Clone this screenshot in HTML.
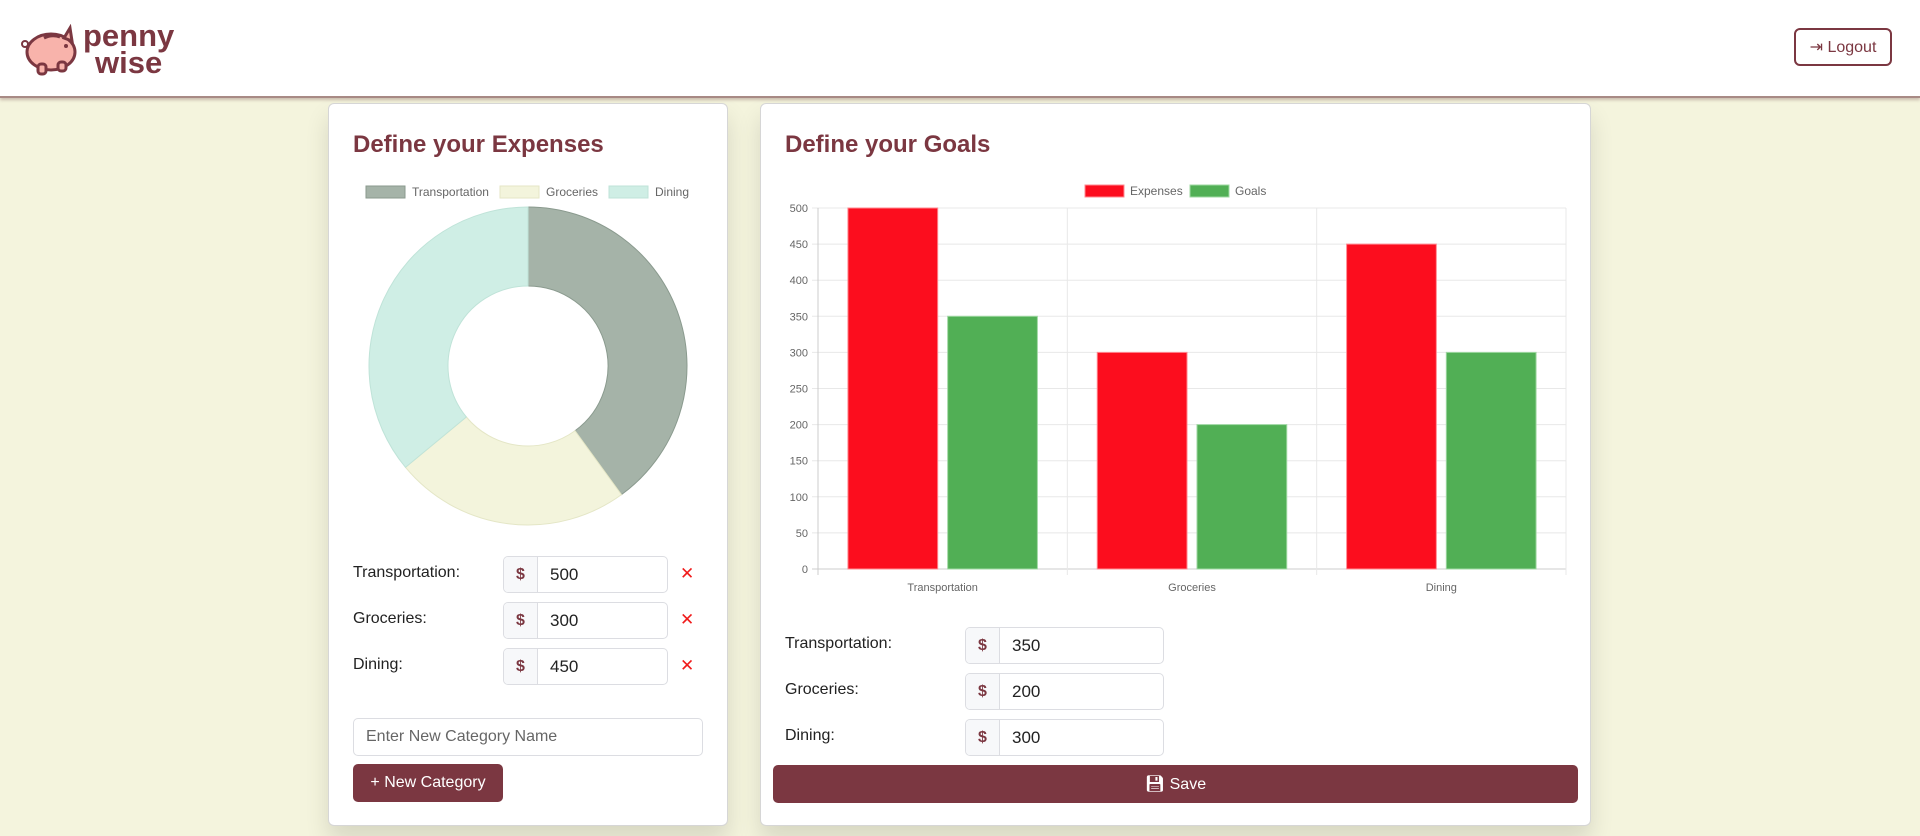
<!DOCTYPE html>
<html><head><meta charset="utf-8"><style>
*{box-sizing:border-box;margin:0;padding:0}
body{width:1920px;height:836px;overflow:hidden;background:#f4f4dd;font-family:"Liberation Sans",sans-serif;color:#222;position:relative}
.header{position:absolute;left:0;top:0;width:1920px;height:98px;background:#fff;border-bottom:2px solid #a88a85;box-shadow:0 2px 3px rgba(120,80,80,.35)}
.card{position:absolute;top:103px;height:723px;background:#fff;border:1px solid #d6d6d6;border-radius:6px;box-shadow:0 14px 24px rgba(0,0,0,.12)}
.title{position:absolute;font-size:24px;font-weight:bold;color:#7b3741}
.lbl{position:absolute;font-size:16px;color:#222}
.ig{position:absolute;height:37px;display:flex;border:1px solid #dcdde2;border-radius:5px;overflow:hidden;background:#fff}
.ig .add{width:34px;background:#f7f8fa;border-right:1px solid #dcdde2;color:#7b3741;font-weight:bold;display:flex;align-items:center;justify-content:center;font-size:16px}
.ig .val{flex:1;padding-left:12px;display:flex;align-items:center;font-size:17px;color:#222}
.x{position:absolute;color:#f01b1b;font-size:17px}
.btn{position:absolute;background:#7b3741;color:#fff;border-radius:5px;display:flex;align-items:center;justify-content:center;font-size:16px}
</style></head><body>
<div class="header">
  <svg style="position:absolute;left:18px;top:24px" width="64" height="54" viewBox="0 0 64 54">
    <ellipse cx="33" cy="28" rx="24" ry="18" fill="#f8b3ab" stroke="#7b3741" stroke-width="3"/>
    <path d="M46 14 L52 4 L54 17 Z" fill="#f8b3ab" stroke="#7b3741" stroke-width="3"/>
    <rect x="20" y="40" width="8" height="10" rx="3" fill="#f8b3ab" stroke="#7b3741" stroke-width="3"/>
    <rect x="40" y="38" width="8" height="9" rx="3" fill="#f8b3ab" stroke="#7b3741" stroke-width="3"/>
    <path d="M26 14 Q34 10 42 13" stroke="#7b3741" stroke-width="3" fill="none"/>
    <circle cx="48" cy="22" r="2" fill="#7b3741"/>
    <circle cx="7" cy="20" r="3" fill="none" stroke="#7b3741" stroke-width="2"/>
  </svg>
  <div style="position:absolute;left:83px;top:22px;font-size:31px;line-height:27px;color:#7b3741;font-weight:bold">penny<br><span style="margin-left:12px">wise</span></div>
  <div style="position:absolute;left:1794px;top:28px;width:98px;height:38px;border:2px solid #7b3741;border-radius:6px;color:#7b3741;font-size:16px;display:flex;align-items:center;justify-content:center">⇥ Logout</div>
</div>

<div class="card" style="left:328px;width:400px">
  <div class="title" style="left:24px;top:27px">Define your Expenses</div>
</div>
<svg id="donut" style="position:absolute;left:328px;top:103px" width="400" height="440"></svg>

<div class="lbl" style="left:353px;top:564px">Transportation:</div>
<div class="ig" style="left:503px;top:556px;width:165px"><div class="add">$</div><div class="val">500</div></div>
<div class="x" style="left:680px;top:564px">✕</div>
<div class="lbl" style="left:353px;top:610px">Groceries:</div>
<div class="ig" style="left:503px;top:602px;width:165px"><div class="add">$</div><div class="val">300</div></div>
<div class="x" style="left:680px;top:610px">✕</div>
<div class="lbl" style="left:353px;top:656px">Dining:</div>
<div class="ig" style="left:503px;top:648px;width:165px"><div class="add">$</div><div class="val">450</div></div>
<div class="x" style="left:680px;top:656px">✕</div>

<div style="position:absolute;left:353px;top:718px;width:350px;height:38px;border:1px solid #dcdde2;border-radius:5px;padding-left:12px;display:flex;align-items:center;font-size:16px;color:#666">Enter New Category Name</div>
<div class="btn" style="left:353px;top:764px;width:150px;height:38px">+ New Category</div>

<div class="card" style="left:760px;width:831px">
  <div class="title" style="left:24px;top:27px">Define your Goals</div>
</div>
<svg id="bars" style="position:absolute;left:760px;top:170px" width="831" height="440"></svg>

<div class="lbl" style="left:785px;top:635px">Transportation:</div>
<div class="ig" style="left:965px;top:627px;width:199px"><div class="add">$</div><div class="val">350</div></div>
<div class="lbl" style="left:785px;top:681px">Groceries:</div>
<div class="ig" style="left:965px;top:673px;width:199px"><div class="add">$</div><div class="val">200</div></div>
<div class="lbl" style="left:785px;top:727px">Dining:</div>
<div class="ig" style="left:965px;top:719px;width:199px"><div class="add">$</div><div class="val">300</div></div>
<div class="btn" style="left:773px;top:765px;width:805px;height:38px">💾︎ Save</div>

<script>
const NS="http://www.w3.org/2000/svg";
const categories=["Transportation","Groceries","Dining"];
const expenses=[500,300,450];
const goals=[350,200,300];
const yTicks=[0,50,100,150,200,250,300,350,400,450,500];
const donutColors=["#a5b3a8","#f3f4dc","#cfeee5"];
const donutBorders=["#8a9a8e","#e4e6c6","#bfe3d8"];
function mk(p,t,a){const e=document.createElementNS(NS,t);for(const k in a)e.setAttribute(k,a[k]);p.appendChild(e);return e;}

const dn=document.getElementById('donut');
const cx=200,cy=263,R=159,r=80;
const legX=[38,172,281];
categories.forEach((c,i)=>{
  const b=mk(dn,'rect',{x:legX[i],y:83,width:39,height:12,fill:donutColors[i],stroke:donutBorders[i]});
  
  
  const t=mk(dn,'text',{x:legX[i]+46,y:93,'font-size':12,fill:'#666','font-family':'Liberation Sans, sans-serif'});
  t.textContent=c;
  
  
});
const total=expenses.reduce((a,b)=>a+b,0);
let ang=-Math.PI/2;
expenses.forEach((v,i)=>{
  const a2=ang+v/total*2*Math.PI, large=(a2-ang)>Math.PI?1:0;
  const p=(rad,a)=>[cx+rad*Math.cos(a),cy+rad*Math.sin(a)];
  const [x1,y1]=p(R,ang),[x2,y2]=p(R,a2),[x3,y3]=p(r,a2),[x4,y4]=p(r,ang);
  const s=mk(dn,'path',{d:`M${x1},${y1}A${R},${R} 0 ${large} 1 ${x2},${y2}L${x3},${y3}A${r},${r} 0 ${large} 0 ${x4},${y4}Z`,fill:donutColors[i],stroke:donutBorders[i],'stroke-width':1});
  
  
  ang=a2;
});

const bs=document.getElementById('bars');
const L=58,Rr=806,T=38,B=399,ymax=500;
const y=v=>B-(v/ymax)*(B-T);
const cw=(Rr-L)/categories.length;
yTicks.forEach(v=>{
  mk(bs,'line',{x1:L-6,x2:Rr,y1:y(v),y2:y(v),stroke:v===0?'#ccc':'#e8e8e8'});
  const t=mk(bs,'text',{x:L-10,y:y(v)+4,'font-size':11,fill:'#666','text-anchor':'end','font-family':'Liberation Sans, sans-serif'});
  t.textContent=v;
  
  
});
for(let i=0;i<=categories.length;i++)mk(bs,'line',{x1:L+i*cw,x2:L+i*cw,y1:T,y2:B+6,stroke:i===0?'#ccc':'#e8e8e8'});
const series=[{n:'expenses',d:expenses,f:'#fc0d1e',s:'#ff8a92'},{n:'goals',d:goals,f:'#51af55',s:'#9fd8a2'}];
const slot=cw*0.8/2,bw=slot*0.9;
categories.forEach((c,i)=>{
  series.forEach((se,j)=>{
    const x=L+i*cw+cw*0.1+j*slot+(slot-bw)/2;
    const b=mk(bs,'rect',{x:x,y:y(se.d[i]),width:bw,height:B-y(se.d[i]),fill:se.f,stroke:se.s,'stroke-width':1});
    
    
  });
  const t=mk(bs,'text',{x:L+i*cw+cw/2,y:B+22,'font-size':11,fill:'#666','text-anchor':'middle','font-family':'Liberation Sans, sans-serif'});
  t.textContent=c;
  
  
});
const legB=[[325,'Expenses'],[430,'Goals']];
legB.forEach((l,j)=>{
  const b=mk(bs,'rect',{x:l[0],y:15,width:39,height:12,fill:series[j].f,stroke:series[j].s});
  
  
  const t=mk(bs,'text',{x:l[0]+45,y:25,'font-size':12,fill:'#666','font-family':'Liberation Sans, sans-serif'});
  t.textContent=l[1];
  
  
});
</script>
</body></html>
